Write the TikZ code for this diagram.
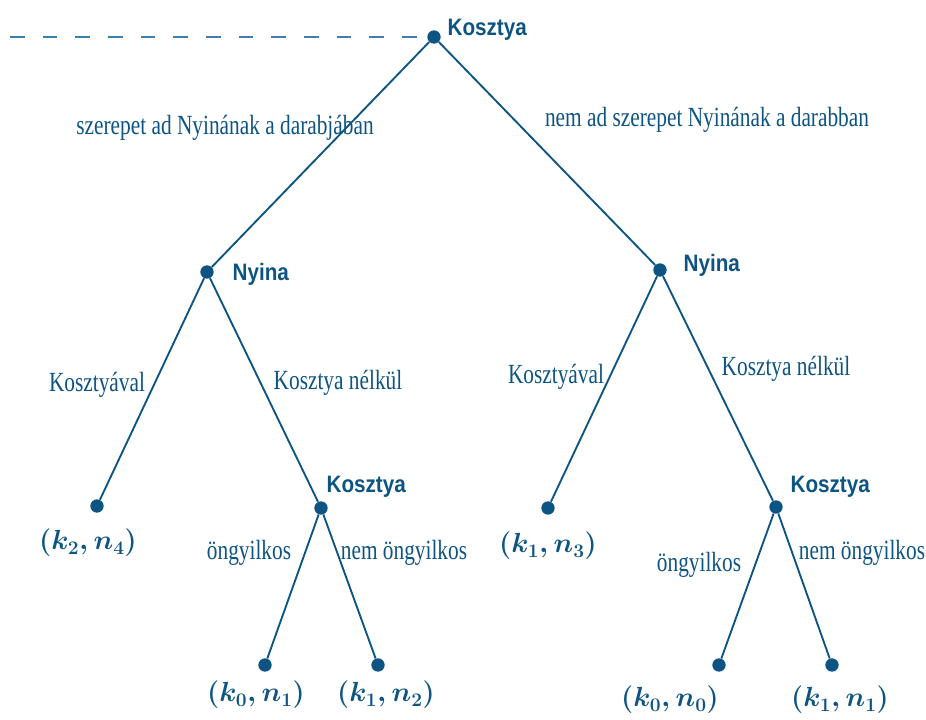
\documentclass[tikz,border=0pt]{standalone}
\usepackage{amsmath}
\usepackage{fontspec}
\setmainfont{Liberation Serif}
\newfontfamily\playerfont{Liberation Sans}
\usepackage{tikz}
\usetikzlibrary{arrows.meta,positioning}
\definecolor{treeblue}{HTML}{0E5482}
\definecolor{infoblue}{HTML}{3B7FAF}
\tikzset{
  dot/.style={circle,fill=treeblue,inner sep=0pt,minimum size=10pt},
  player/.style={text=treeblue,font=\playerfont\bfseries\fontsize{15.5}{18}\selectfont,yscale=1.15,inner sep=1pt},
  move/.style={text=treeblue,font=\fontsize{16}{19}\selectfont,yscale=1.3,inner sep=1pt},
  payoff/.style={text=treeblue,font=\fontsize{21}{24}\selectfont\boldmath,inner sep=1pt},
  branch/.style={treeblue,line width=1.4pt}
}
\begin{document}
\begin{tikzpicture}[x=0.75pt,y=-0.75pt]
\useasboundingbox (0,0) rectangle (926,720);
\node[dot](r) at (434,37){};
\node[dot](nl) at (207,272){};
\node[dot](nr) at (660,270){};
\node[dot](l1) at (97,506){};
\node[dot](kl) at (321,508){};
\node[dot](l2) at (548,508){};
\node[dot](kr) at (776,507){};
\node[dot](l3) at (265,665){};
\node[dot](l4) at (378,665){};
\node[dot](l5) at (719,665){};
\node[dot](l6) at (832,665){};
\coordinate (d) at (10,37);
\draw[infoblue,line width=1.1pt,dash pattern=on 11pt off 13.5pt](d)--(r.west);
\draw[branch](r)--(nl) (r)--(nr)
(nl)--(l1) (nl)--(kl) (nr)--(l2) (nr)--(kr)
(kl)--(l3) (kl)--(l4) (kr)--(l5) (kr)--(l6);
\node[player,anchor=west](pr) at (446,30){Kosztya};
\node[player,anchor=west](pnl) at (231,274){Nyina};
\node[player,anchor=west](pnr) at (682,265){Nyina};
\node[player,anchor=west](pkl) at (325,487){Kosztya};
\node[player,anchor=west](pkr) at (789,487){Kosztya};
\node[move](m1) at (225,128){szerepet ad Nyinának a darabjában};
\node[move](m2) at (707,120){nem ad szerepet Nyinának a darabban};
\node[move](m3) at (97,385){Kosztyával};
\node[move](m4) at (338,383){Kosztya nélkül};
\node[move](m5) at (556,377){Kosztyával};
\node[move](m6) at (786,369){Kosztya nélkül};
\node[move](m7) at (249,553){öngyilkos};
\node[move](m8) at (404,553){nem öngyilkos};
\node[move](m9) at (699,565){öngyilkos};
\node[move](m10) at (862,553){nem öngyilkos};
\node[payoff](p1) at (88,543){$(k_2,n_4)$};
\node[payoff](p2) at (548,546){$(k_1,n_3)$};
\node[payoff](p3) at (256,695){$(k_0,n_1)$};
\node[payoff](p4) at (386,695){$(k_1,n_2)$};
\node[payoff](p5) at (670,700){$(k_0,n_0)$};
\node[payoff](p6) at (840,700){$(k_1,n_1)$};
\end{tikzpicture}
\end{document}
